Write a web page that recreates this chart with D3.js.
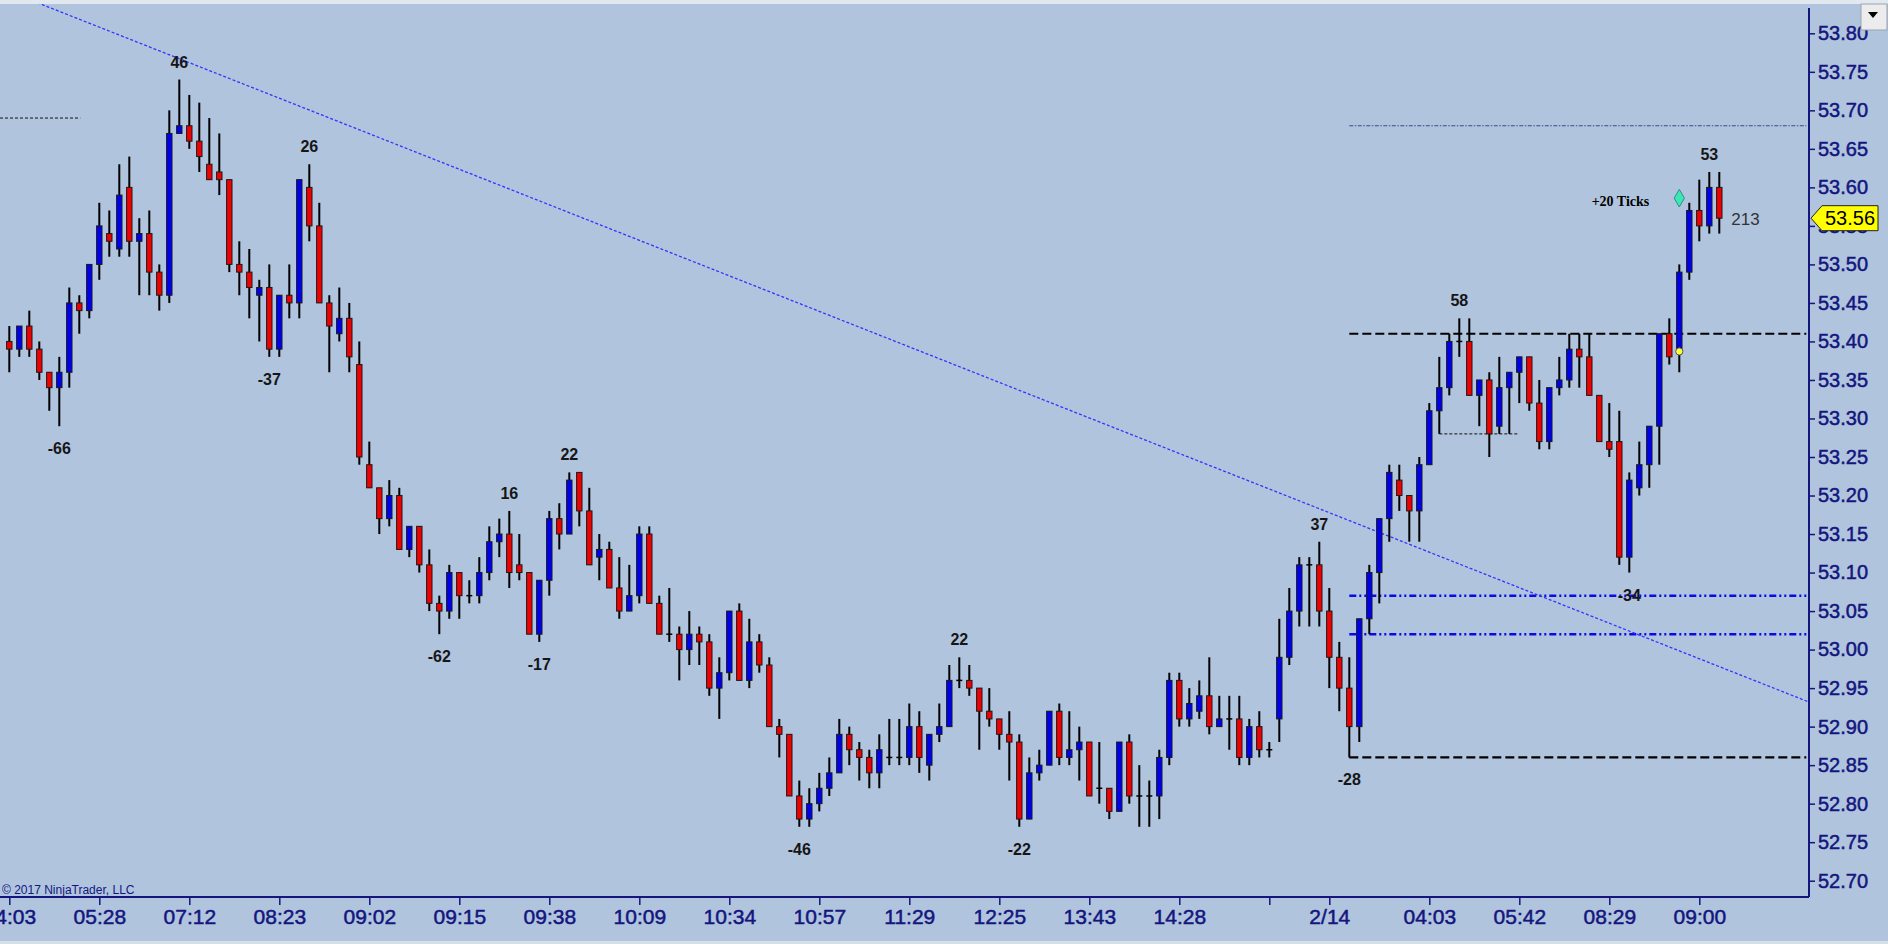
<!DOCTYPE html>
<html>
<head>
<meta charset="utf-8">
<script src="https://cdn.jsdelivr.net/npm/d3@7"></script>
<style>
  html, body { margin: 0; padding: 0; background: #b0c4de; }
  svg { display: block; }
</style>
</head>
<body>
<div id="chart"></div>
<script>
// bar values, one per bar, left to right
const opens = [
  53.40,53.39,53.42,53.39,53.36,53.34,53.36,53.45,53.44,53.50,
  53.54,53.52,53.60,53.53,53.54,53.49,53.46,53.67,53.68,53.66,
  53.63,53.62,53.61,53.50,53.49,53.46,53.47,53.39,53.46,53.45,
  53.60,53.55,53.45,53.41,53.43,53.37,53.24,53.21,53.17,53.20,
  53.13,53.16,53.11,53.06,53.05,53.10,53.07,53.07,53.10,53.14,
  53.15,53.11,53.10,53.02,53.09,53.17,53.15,53.23,53.18,53.12,
  53.13,53.08,53.05,53.07,53.15,53.06,53.02,53.02,53.00,53.02,
  53.01,52.95,52.97,53.05,52.96,53.01,52.98,52.90,52.89,52.81,
  52.78,52.80,52.82,52.84,52.89,52.87,52.86,52.84,52.86,52.86,
  52.86,52.90,52.85,52.89,52.90,52.96,52.96,52.95,52.92,52.91,
  52.89,52.88,52.78,52.84,52.85,52.92,52.86,52.87,52.88,52.82,
  52.82,52.79,52.88,52.81,52.81,52.81,52.86,52.96,52.91,52.92,
  52.94,52.90,52.91,52.91,52.86,52.90,52.87,52.91,52.99,53.05,
  53.11,53.11,53.05,52.99,52.95,52.90,53.04,53.10,53.17,53.22,
  53.20,53.18,53.24,53.31,53.34,53.40,53.40,53.33,53.35,53.29,
  53.34,53.36,53.38,53.32,53.27,53.34,53.35,53.39,53.38,53.33,
  53.27,53.27,53.12,53.21,53.24,53.29,53.41,53.39,53.49,53.57,
  53.55,53.60
];
const highs = [
  53.42,53.42,53.44,53.40,53.36,53.38,53.47,53.46,53.50,53.58,
  53.57,53.63,53.64,53.56,53.57,53.50,53.70,53.74,53.72,53.71,
  53.69,53.67,53.61,53.53,53.52,53.48,53.50,53.46,53.50,53.61,
  53.63,53.58,53.46,53.47,53.45,53.40,53.27,53.21,53.22,53.21,
  53.16,53.16,53.13,53.07,53.11,53.10,53.09,53.12,53.16,53.17,
  53.18,53.15,53.10,53.09,53.18,53.19,53.23,53.23,53.21,53.15,
  53.14,53.12,53.11,53.16,53.16,53.07,53.08,53.03,53.05,53.03,
  53.02,52.99,53.05,53.06,53.04,53.02,52.99,52.91,52.89,52.83,
  52.82,52.84,52.86,52.91,52.90,52.88,52.87,52.89,52.91,52.91,
  52.93,52.92,52.89,52.93,52.98,52.99,52.98,52.95,52.95,52.91,
  52.92,52.89,52.86,52.87,52.92,52.93,52.92,52.90,52.88,52.88,
  52.82,52.88,52.89,52.85,52.83,52.87,52.97,52.97,52.95,52.96,
  52.99,52.94,52.94,52.94,52.91,52.92,52.88,53.04,53.08,53.12,
  53.12,53.14,53.08,53.01,52.99,53.04,53.11,53.17,53.24,53.24,
  53.20,53.25,53.32,53.38,53.41,53.43,53.43,53.35,53.36,53.38,
  53.36,53.38,53.38,53.35,53.34,53.38,53.41,53.41,53.41,53.33,
  53.32,53.31,53.23,53.27,53.29,53.41,53.43,53.50,53.58,53.61,
  53.62,53.62
];
const lows = [
  53.36,53.38,53.38,53.35,53.31,53.29,53.34,53.41,53.43,53.48,
  53.51,53.51,53.51,53.46,53.46,53.44,53.45,53.67,53.65,53.62,
  53.61,53.59,53.49,53.46,53.43,53.40,53.38,53.38,53.43,53.43,
  53.53,53.45,53.36,53.40,53.36,53.24,53.21,53.15,53.16,53.13,
  53.12,53.10,53.05,53.02,53.04,53.04,53.06,53.06,53.09,53.12,
  53.08,53.09,53.02,53.01,53.07,53.13,53.15,53.16,53.11,53.09,
  53.08,53.04,53.05,53.06,53.06,53.02,53.01,52.96,52.98,52.98,
  52.94,52.91,52.96,52.96,52.95,52.97,52.90,52.86,52.81,52.77,
  52.77,52.79,52.81,52.84,52.85,52.83,52.82,52.82,52.85,52.85,
  52.85,52.84,52.83,52.88,52.90,52.95,52.94,52.87,52.90,52.87,
  52.83,52.77,52.78,52.83,52.85,52.85,52.85,52.83,52.81,52.80,
  52.78,52.79,52.80,52.77,52.77,52.78,52.85,52.90,52.90,52.91,
  52.89,52.90,52.87,52.85,52.85,52.86,52.86,52.88,52.98,53.03,
  53.03,53.03,52.95,52.92,52.86,52.88,53.02,53.06,53.14,53.18,
  53.14,53.14,53.24,53.28,53.33,53.38,53.33,53.29,53.25,53.28,
  53.28,53.32,53.31,53.26,53.26,53.33,53.34,53.34,53.33,53.27,
  53.25,53.11,53.10,53.20,53.21,53.24,53.37,53.36,53.48,53.53,
  53.54,53.54
];
const closes = [
  53.39,53.42,53.39,53.36,53.34,53.36,53.45,53.44,53.50,53.55,
  53.53,53.59,53.53,53.54,53.49,53.46,53.67,53.68,53.66,53.64,
  53.61,53.61,53.50,53.49,53.47,53.47,53.39,53.46,53.45,53.61,
  53.55,53.45,53.42,53.43,53.38,53.25,53.21,53.17,53.20,53.13,
  53.16,53.11,53.06,53.05,53.10,53.07,53.07,53.10,53.14,53.15,
  53.10,53.10,53.02,53.09,53.17,53.15,53.22,53.18,53.11,53.13,
  53.08,53.05,53.07,53.15,53.06,53.02,53.02,53.00,53.02,53.01,
  52.95,52.97,53.05,52.96,53.01,52.98,52.90,52.89,52.81,52.78,
  52.80,52.82,52.84,52.89,52.87,52.86,52.84,52.87,52.86,52.86,
  52.90,52.86,52.89,52.90,52.96,52.96,52.95,52.92,52.91,52.89,
  52.88,52.78,52.84,52.85,52.92,52.86,52.87,52.88,52.81,52.82,
  52.79,52.88,52.81,52.81,52.81,52.86,52.96,52.91,52.93,52.94,
  52.90,52.91,52.91,52.86,52.90,52.87,52.87,52.99,53.05,53.11,
  53.11,53.05,52.99,52.95,52.90,53.04,53.10,53.17,53.23,53.20,
  53.18,53.24,53.31,53.34,53.40,53.40,53.33,53.35,53.28,53.34,
  53.36,53.38,53.32,53.27,53.34,53.35,53.39,53.38,53.33,53.27,
  53.26,53.12,53.22,53.24,53.29,53.41,53.38,53.49,53.57,53.55,
  53.60,53.56
];

// swing labels (bar index, value shown)
const swingIdx = [5, 17, 26, 30, 43, 50, 53, 56, 79, 95, 101, 131, 134, 145, 162, 170];
const swingVal = [-66, 46, -37, 26, -62, 16, -17, 22, -46, 22, -22, 37, -28, 58, -34, 53];

// time axis
const timeTickIdx = [0, 9, 18, 27, 36, 45, 54, 63, 72, 81, 90, 99, 108, 117, 126, 132, 142, 151, 160, 169];
const timeLabels = ["04:03", "05:28", "07:12", "08:23", "09:02", "09:15", "09:38", "10:09", "10:34", "10:57",
  "11:29", "12:25", "13:43", "14:28", "", "2/14", "04:03", "05:42", "08:29", "09:00"];

// price axis
const priceTicks = [52.70, 52.75, 52.80, 52.85, 52.90, 52.95, 53.00, 53.05, 53.10, 53.15, 53.20, 53.25,
  53.30, 53.35, 53.40, 53.45, 53.50, 53.55, 53.60, 53.65, 53.70, 53.75, 53.80];

// drawn objects
const trendIdx = [17, 170];
const trendPrice = [53.767, 52.983];
const priorHigh = 53.69;
const targetLevel = 53.68;
const sessionLevels = [53.41, 52.86];
const bandLevels = [53.07, 53.02];
const rangeLevel = 53.28;
const signalUp = 53.586;
const signalDot = 53.387;
const lastPrice = 53.56;
const barTicks = "213";

const W = 1888, H = 944;
const axisX = 1809, axisY = 897;
const navy = "#14167e";
const font = "'Liberation Sans', Arial, sans-serif";

const x = d3.scaleLinear().domain([0, 171]).range([9.3, 1719.3]);
const y = d3.scaleLinear().domain([52.70, 53.80]).range([880.7, 33.3]);

const svg = d3.select("#chart").append("svg")
  .attr("width", W)
  .attr("height", H);

svg.append("rect").attr("width", W).attr("height", H).attr("fill", "#b0c4de");
svg.append("rect").attr("width", W).attr("height", 4).attr("fill", "#e2e8f0");
svg.append("rect").attr("y", H - 3).attr("width", W).attr("height", 3).attr("fill", "#d6dee9");

svg.append("clipPath").attr("id", "plot")
  .append("rect").attr("x", 0).attr("y", 4).attr("width", axisX).attr("height", axisY - 4);

const plot = svg.append("g").attr("clip-path", "url(#plot)");

// horizontal levels
function level(price, i0, i1, color, width, dash) {
  plot.append("line")
    .attr("x1", x(i0)).attr("x2", x(i1))
    .attr("y1", y(price)).attr("y2", y(price))
    .attr("stroke", color)
    .attr("stroke-width", width)
    .attr("stroke-dasharray", dash);
}
level(priorHigh, -0.93, 7.1, "#111", 1, "3,2");
level(targetLevel, 134, 179.7, "#3a4a8c", 1.2, "4,1.5,1.5,1.5");
sessionLevels.forEach(p => level(p, 134, 179.7, "#000", 2.2, "9,4"));
bandLevels.forEach(p => level(p, 134, 179.7, "#0a0ae6", 2.5, "7,3,2,3,2,3"));
level(rangeLevel, 143, 151, "#111", 1, "3,2");

// trend line, extended across the plot
const slope = (trendPrice[1] - trendPrice[0]) / (trendIdx[1] - trendIdx[0]);
const tStart = 0, tEnd = 180;
plot.append("line")
  .attr("x1", x(tStart)).attr("y1", y(trendPrice[0] + slope * (tStart - trendIdx[0])))
  .attr("x2", x(tEnd)).attr("y2", y(trendPrice[0] + slope * (tEnd - trendIdx[0])))
  .attr("stroke", "#3434ff")
  .attr("stroke-width", 1.3)
  .attr("stroke-dasharray", "3,2");

// candles
const bars = d3.range(opens.length).map(i => ({
  i, o: opens[i], h: highs[i], l: lows[i], c: closes[i]
}));

const candle = plot.append("g").selectAll("g")
  .data(bars)
  .join("g");

candle.append("line")
  .attr("x1", d => x(d.i)).attr("x2", d => x(d.i))
  .attr("y1", d => y(d.h)).attr("y2", d => y(d.l))
  .attr("stroke", "#000")
  .attr("stroke-width", 2);

candle.filter(d => d.o !== d.c).append("rect")
  .attr("x", d => x(d.i) - 2.7)
  .attr("width", 5.4)
  .attr("y", d => y(Math.max(d.o, d.c)))
  .attr("height", d => Math.abs(y(d.o) - y(d.c)))
  .attr("fill", d => d.c > d.o ? "#0000f0" : "#f00000")
  .attr("stroke", "#1a1a1a")
  .attr("stroke-width", 1);

candle.filter(d => d.o === d.c).append("line")
  .attr("x1", d => x(d.i) - 3).attr("x2", d => x(d.i) + 3)
  .attr("y1", d => y(d.o)).attr("y2", d => y(d.o))
  .attr("stroke", "#000")
  .attr("stroke-width", 1.5);

// swing labels
plot.append("g").selectAll("text")
  .data(swingIdx.map((i, k) => ({ i, v: swingVal[k] })))
  .join("text")
  .attr("x", d => x(d.i))
  .attr("y", d => d.v > 0 ? y(highs[d.i]) - 12 : y(lows[d.i]) + 28)
  .attr("text-anchor", "middle")
  .attr("font-family", font)
  .attr("font-weight", "bold")
  .attr("font-size", 16)
  .attr("fill", "#161616")
  .text(d => d.v);

// signal markers
const last = opens.length - 1;
plot.append("path")
  .attr("d", d3.symbol().type(d3.symbolDiamond).size(90)())
  .attr("transform", `translate(${x(167)},${y(signalUp)})`)
  .attr("fill", "#3ee6b4")
  .attr("stroke", "#2a8f86")
  .attr("stroke-width", 1);

plot.append("text")
  .attr("x", x(167) - 30)
  .attr("y", y(signalUp) + 8)
  .attr("text-anchor", "end")
  .attr("font-family", "'Liberation Serif', 'Times New Roman', serif")
  .attr("font-weight", "bold")
  .attr("font-size", 14)
  .attr("fill", "#000")
  .text("+20 Ticks");

plot.append("circle")
  .attr("cx", x(167)).attr("cy", y(signalDot))
  .attr("r", 3.6)
  .attr("fill", "#ffff33")
  .attr("stroke", "#555")
  .attr("stroke-width", 1);

plot.append("text")
  .attr("x", x(last) + 12)
  .attr("y", y(lastPrice) + 7)
  .attr("font-family", font)
  .attr("font-size", 17)
  .attr("fill", "#333")
  .text(barTicks);

// copyright
svg.append("text")
  .attr("x", 2).attr("y", 894)
  .attr("font-family", font)
  .attr("font-size", 12)
  .attr("fill", navy)
  .text("\u00a9 2017 NinjaTrader, LLC");

// price axis
const yAxis = d3.axisRight(y)
  .tickValues(priceTicks)
  .tickFormat(d3.format(".2f"))
  .tickSize(6)
  .tickSizeOuter(0)
  .tickPadding(3);

const gy = svg.append("g")
  .attr("transform", `translate(${axisX},0)`)
  .call(yAxis);
gy.select(".domain").remove();
gy.selectAll(".tick line").attr("stroke", navy).attr("stroke-width", 1.5);
gy.selectAll(".tick text")
  .attr("font-family", font)
  .attr("font-size", 20)
  .attr("fill", navy)
  .attr("stroke", navy)
  .attr("stroke-width", 0.5);

// time axis
const xAxis = d3.axisBottom(x)
  .tickValues(timeTickIdx)
  .tickFormat((d, k) => timeLabels[k])
  .tickSize(8)
  .tickSizeOuter(0)
  .tickPadding(4);

const gx = svg.append("g")
  .attr("transform", `translate(0,${axisY})`)
  .call(xAxis);
gx.select(".domain").remove();
gx.selectAll(".tick line").attr("stroke", navy).attr("stroke-width", 1.5);
gx.selectAll(".tick text")
  .attr("font-family", font)
  .attr("font-size", 21)
  .attr("fill", navy)
  .attr("stroke", navy)
  .attr("stroke-width", 0.5);

svg.append("line")
  .attr("x1", 0).attr("x2", axisX)
  .attr("y1", axisY).attr("y2", axisY)
  .attr("stroke", navy).attr("stroke-width", 2);
svg.append("line")
  .attr("x1", axisX).attr("x2", axisX)
  .attr("y1", 8).attr("y2", axisY)
  .attr("stroke", navy).attr("stroke-width", 2);

// last price marker
const ly = y(lastPrice);
svg.append("path")
  .attr("d", `M${axisX + 2},${ly} L${axisX + 13},${ly - 12.5} L${axisX + 69},${ly - 12.5} L${axisX + 69},${ly + 12.5} L${axisX + 13},${ly + 12.5} Z`)
  .attr("fill", "#ffff00")
  .attr("stroke", "#222")
  .attr("stroke-width", 1);
svg.append("text")
  .attr("x", axisX + 41)
  .attr("y", ly + 7)
  .attr("text-anchor", "middle")
  .attr("font-family", font)
  .attr("font-size", 20)
  .attr("fill", "#000")
  .text(d3.format(".2f")(lastPrice));

// dropdown button
svg.append("rect")
  .attr("x", 1861).attr("y", 4).attr("width", 26).attr("height", 26)
  .attr("fill", "#ececec").attr("stroke", "#9aa3ad");
svg.append("path")
  .attr("d", "M1868,12 L1878,12 L1873,18 Z")
  .attr("fill", "#000");
</script>
</body>
</html>
